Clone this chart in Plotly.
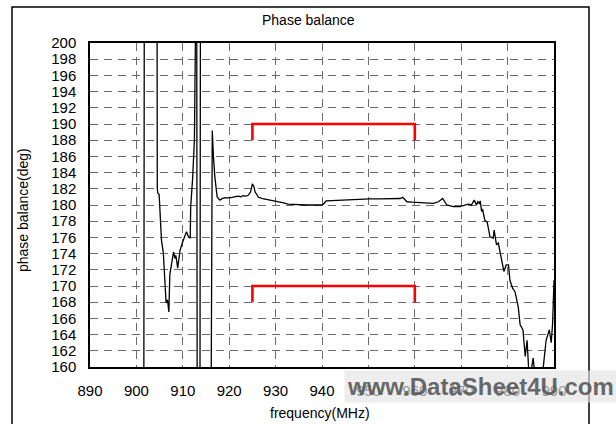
import plotly.graph_objects as go

# ---- data ----
freq_mhz = [890, 901.6, 901.7, 904.45, 904.5, 904.6, 904.9, 905.4, 905.8, 906.4, 906.7, 907.0,
            907.2, 907.6, 908.0, 908.3, 908.5, 908.9, 909.4, 910.0, 910.5, 910.8, 911.2, 911.6,
            911.7, 912.1, 912.5, 912.8, 913.0, 913.1, 913.7, 913.8, None,
            916.1, 916.2, 916.35, 916.6, 916.9, 917.4, 918.0, 918.5, 919.1, 919.6, 920.0, 920.5,
            920.9, 921.5, 922.0, 922.5, 923.0, 923.6, 924.1, 924.6, 925.0, 925.3, 925.6, 926.3,
            927.2, 928.1, 929.2, 930.2, 931.5, 932.7, 934.0, 935.3, 936.7, 938.1, 939.2, 940.1,
            940.9, 942.4, 943.9, 946.0, 948.2, 950.3, 952.5, 954.6, 956.8, 957.4, 958.3, 959.4,
            960.4, 962.2, 964.0, 965.1, 966.0, 966.9, 968.3, 969.7, 970.5, 971.5, 972.2, 972.6,
            972.8, 973.3, 973.6, 973.9, 974.1, 974.4, 974.6, 975.1, 975.6, 976.2, 976.9, 977.1,
            977.6, 978.0, 978.7, 979.2, 979.7, 980.2, 980.5, 981.1, 981.6, 982.3, 982.7, 983.3,
            983.8, 984.2, 984.7, 985.5, 986.1, 987.7, 988.3, 989.0, 989.4, 989.7, 990.0]
phase_deg = [155, 155, 205, 205, 182.1, 181.5, 181.3, 175.7, 174.1, 167.9, 168.3, 166.8,
             171.4, 172.8, 174.2, 173.4, 173.8, 172.2, 174.4, 175.5, 176.3, 176.7, 176.1, 175.9,
             179.8, 183.1, 188.0, 205, 205, 155, 155, 205, None,
             155, 187.0, 189.2, 186.0, 183.5, 181.0, 180.6, 180.8, 180.9, 180.85, 180.95, 180.9,
             181.0, 181.05, 181.1, 181.0, 181.15, 181.1, 181.2, 181.6, 182.6, 182.3, 181.6, 180.95,
             180.8, 180.7, 180.6, 180.5, 180.3, 180.1, 180.05, 180.0, 180.0, 180.0, 180.05, 180.0,
             180.5, 180.55, 180.6, 180.65, 180.7, 180.75, 180.75, 180.8, 180.8, 180.95, 180.4, 180.35,
             180.3, 180.25, 180.2, 180.4, 180.8, 180.0, 179.8, 179.8, 179.9, 180.1, 180.0, 180.4,
             180.6, 180.0, 180.4, 180.2, 180.5, 179.2, 179.5, 178.1, 177.9, 176.1, 175.9, 176.9,
             175.1, 175.3, 173.2, 171.8, 172.6, 172.6, 170.7, 169.7, 169.3, 167.4, 165.2, 164.6,
             161.3, 163.3, 158.0, 161.1, 158.0, 160.05, 163.3, 164.6, 163.0, 165.4, 170.7]

upper_limit_f = [925, 925, 960, 960]
upper_limit_v = [188, 190, 190, 188]
lower_limit_f = [925, 925, 960, 960]
lower_limit_v = [168, 170, 170, 168]

x_ticks = list(range(890, 991, 10))
y_ticks = list(range(160, 201, 2))

FONT = "Liberation Sans"

fig = go.Figure()
fig.add_trace(go.Scatter(x=freq_mhz, y=phase_deg, mode="lines",
                         line=dict(color="black", width=1.3), connectgaps=False,
                         hoverinfo="skip"))
fig.add_trace(go.Scatter(x=upper_limit_f, y=upper_limit_v, mode="lines",
                         line=dict(color="#ff0000", width=2.6)))
fig.add_trace(go.Scatter(x=lower_limit_f, y=lower_limit_v, mode="lines",
                         line=dict(color="#ff0000", width=2.6)))

W, H = 616, 424
L, R, T, B = 90, 62, 43, 57
pw, ph = W - L - R, H - T - B

def px(xp):
    return (xp - L) / pw

def py(yp):
    return (H - B - yp) / ph

fig.update_layout(
    width=W, height=H,
    margin=dict(l=L, r=R, t=T, b=B, autoexpand=False),
    paper_bgcolor="white", plot_bgcolor="white",
    showlegend=False,
    font=dict(family=FONT, size=14, color="black"),
    xaxis=dict(range=[890, 990], tickvals=x_ticks, ticktext=[str(v) for v in x_ticks],
               showgrid=True, gridcolor="#6a6a6a", gridwidth=1.2, griddash="8px,6px",
               showline=True, linecolor="black", linewidth=1.5, mirror=True,
               ticks="", ticklabelstandoff=9, zeroline=False, automargin=False,
               tickfont=dict(family=FONT, size=15)),
    yaxis=dict(range=[160, 200], tickvals=y_ticks, ticktext=[str(v) for v in y_ticks],
               showgrid=True, gridcolor="#6a6a6a", gridwidth=1.2, griddash="8px,6px",
               showline=True, linecolor="black", linewidth=1.5, mirror=True,
               ticks="", ticklabelstandoff=9, zeroline=False, automargin=False,
               tickfont=dict(family=FONT, size=15)),
    shapes=[dict(type="rect", xref="paper", yref="paper",
                 x0=px(12), x1=px(589), y0=py(440), y1=py(7),
                 line=dict(color="black", width=1.5), fillcolor="rgba(0,0,0,0)", layer="above")],
    annotations=[
        dict(text="Phase balance", xref="paper", yref="paper", x=px(308), y=py(20),
             showarrow=False, font=dict(family=FONT, size=14), xanchor="center", yanchor="middle"),
        dict(text="frequency(MHz)", xref="paper", yref="paper", x=px(320), y=py(413),
             showarrow=False, font=dict(family=FONT, size=14), xanchor="center", yanchor="middle"),
        dict(text="phase balance(deg)", xref="paper", yref="paper", x=px(23), y=py(210),
             showarrow=False, font=dict(family=FONT, size=14), xanchor="center", yanchor="middle",
             textangle=-90),
        dict(text="<b>www.DataSheet4U.com</b>", xref="paper", yref="paper", x=px(480), y=py(386),
             showarrow=False, font=dict(family=FONT, size=24, color="rgba(85,85,85,0.9)"),
             xanchor="center", yanchor="middle", bgcolor="rgba(228,228,228,0.65)", borderpad=2),
    ],
)

fig.write_html("out.html", config={"displayModeBar": False},
               post_script="document.body.style.margin='0';document.body.style.overflow='hidden';")
